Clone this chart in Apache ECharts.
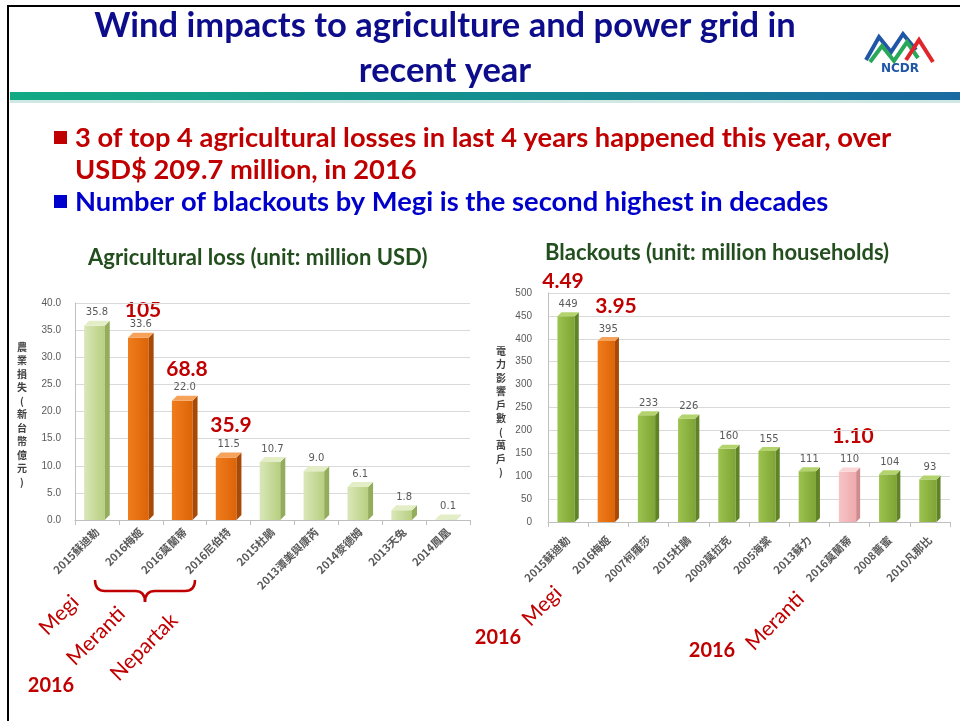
<!DOCTYPE html>
<html>
<head>
<meta charset="utf-8">
<script src="https://cdn.jsdelivr.net/npm/echarts@6/dist/echarts.min.js"></script>
<style>
  html, body { margin: 0; padding: 0; background: #fff; }
  #main { width: 960px; height: 721px; }
</style>
</head>
<body>
<div id="main"></div>
<script>
// agricultural loss (億元), left chart
const agriNames = ['2015蘇迪勒', '2016梅姬', '2016莫蘭蒂', '2016尼伯特', '2015杜鵑', '2013潭美與康芮', '2014麥德姆', '2013天兔', '2014鳳凰'];
const agriValues = [35.8, 33.6, 22.0, 11.5, 10.7, 9.0, 6.1, 1.8, 0.1];
const agriKind = ['g', 'o', 'o', 'o', 'g', 'g', 'g', 'g', 'g'];

// blackouts (萬戶), right chart
const powerNames = ['2015蘇迪勒', '2016梅姬', '2007柯羅莎', '2015杜鵑', '2009莫拉克', '2005海棠', '2013蘇力', '2016莫蘭蒂', '2008薔蜜', '2010凡那比'];
const powerValues = [449, 395, 233, 226, 160, 155, 111, 110, 104, 93];
const powerKind = ['G', 'o', 'G', 'G', 'G', 'G', 'G', 'p', 'G', 'G'];

const palette = {
  g: { front: ['#d9e7b8', '#b8cf80'], side: '#93ad5c', top: '#e3eec7' },
  G: { front: ['#9cc24e', '#7ea535'], side: '#5f8325', top: '#b3d36c' },
  o: { front: ['#f07c1c', '#dc6408'], side: '#a84a05', top: '#f6a25a' },
  p: { front: ['#f7c4c6', '#eeaaad'], side: '#cf8c8f', top: '#fad6d7' }
};

const labelFont = '"Noto Sans CJK TC", "DejaVu Sans", sans-serif';
const enFont = 'Lato, "Open Sans", sans-serif';

function bar3d(kinds, ratio, depth, fmt) {
  return function (params, api) {
    const i = api.value(0);
    const v = api.value(1);
    const top = api.coord([i, v]);
    const base = api.coord([i, 0]);
    const bw = api.size([1, 0])[0] * ratio;
    const c = palette[kinds[params.dataIndex]];
    const x = top[0] - (bw + depth) / 2;
    const d = depth;
    return {
      type: 'group',
      children: [
        {
          type: 'rect',
          shape: { x: x, y: top[1], width: bw, height: Math.max(base[1] - top[1], 0) },
          style: {
            fill: new echarts.graphic.LinearGradient(0, 0, 1, 0, [
              { offset: 0, color: c.front[0] }, { offset: 1, color: c.front[1] }
            ])
          }
        },
        {
          type: 'polygon',
          shape: { points: [[x + bw, top[1]], [x + bw + d, top[1] - d], [x + bw + d, base[1] - d], [x + bw, base[1]]] },
          style: { fill: c.side }
        },
        {
          type: 'polygon',
          shape: { points: [[x, top[1]], [x + d, top[1] - d], [x + bw + d, top[1] - d], [x + bw, top[1]]] },
          style: { fill: c.top }
        },
        {
          type: 'text',
          x: x + (bw + d) / 2,
          y: top[1] - d - 3,
          style: {
            text: fmt(v), fill: '#595959', font: '10px "DejaVu Sans", sans-serif',
            textAlign: 'center', textVerticalAlign: 'bottom'
          }
        }
      ]
    };
  };
}

function redText(text, x, y, size, bold, rot) {
  return {
    type: 'text', x: x, y: y, rotation: rot || 0,
    style: {
      text: text, fill: '#c00000',
      font: (bold ? 'bold ' : '') + size + 'px ' + enFont,
      textAlign: 'center', textVerticalAlign: 'middle'
    }
  };
}

function vertText(chars, x, y) {
  return {
    type: 'text', x: x, y: y,
    style: {
      text: chars.split('').join('\n'), fill: '#404040',
      font: 'bold 10px ' + labelFont, lineHeight: 13.5,
      textAlign: 'center', textVerticalAlign: 'top'
    }
  };
}

function redLine(x1, y1, x2, y2) {
  return { type: 'line', shape: { x1: x1, y1: y1, x2: x2, y2: y2 }, style: { stroke: '#c00000', lineWidth: 2.5 } };
}

function redCurve(x1, y1, cx, cy, x2, y2) {
  return { type: 'bezierCurve', shape: { x1: x1, y1: y1, cpx1: cx, cpy1: cy, x2: x2, y2: y2 }, style: { stroke: '#c00000', lineWidth: 2.5, fill: null } };
}

const axisGray = '#bfbfbf';

const option = {
  backgroundColor: '#fff',
  animation: false,
  grid: [
    { left: 75, top: 303, width: 395, height: 217 },
    { left: 548, top: 293, width: 402, height: 229 }
  ],
  xAxis: [
    {
      gridIndex: 0, type: 'category', data: agriNames,
      axisLine: { lineStyle: { color: axisGray } },
      axisTick: { show: true, lineStyle: { color: axisGray } },
      axisLabel: { rotate: 45, interval: 0, fontSize: 11, fontWeight: 'bold', color: '#595959', fontFamily: labelFont, margin: 10 }
    },
    {
      gridIndex: 1, type: 'category', data: powerNames,
      axisLine: { lineStyle: { color: axisGray } },
      axisTick: { show: true, lineStyle: { color: axisGray } },
      axisLabel: { rotate: 45, interval: 0, fontSize: 11, fontWeight: 'bold', color: '#595959', fontFamily: labelFont, margin: 16 }
    }
  ],
  yAxis: [
    {
      gridIndex: 0, type: 'value', min: 0, max: 40, interval: 5,
      axisLine: { show: true, lineStyle: { color: axisGray } },
      splitLine: { lineStyle: { color: '#d9d9d9' } },
      axisLabel: { fontSize: 10, color: '#595959', margin: 14, formatter: function (v) { return v.toFixed(1); } }
    },
    {
      gridIndex: 1, type: 'value', min: 0, max: 500, interval: 50,
      axisLine: { show: true, lineStyle: { color: axisGray } },
      splitLine: { lineStyle: { color: '#d9d9d9' } },
      axisLabel: { fontSize: 10, color: '#595959', margin: 16 }
    }
  ],
  series: [
    {
      type: 'custom', xAxisIndex: 0, yAxisIndex: 0,
      renderItem: bar3d(agriKind, 0.47, 5, function (v) { return v.toFixed(1); }),
      encode: { x: 0, y: 1 },
      data: agriValues.map(function (v, i) { return [i, v]; })
    },
    {
      type: 'custom', xAxisIndex: 1, yAxisIndex: 1,
      renderItem: bar3d(powerKind, 0.43, 4, function (v) { return String(v); }),
      encode: { x: 0, y: 1 },
      data: powerValues.map(function (v, i) { return [i, v]; })
    }
  ],
  graphic: [
    // slide frame
    { type: 'polyline', shape: { points: [[8, 721], [8, 6], [960, 6]] }, style: { stroke: '#000', lineWidth: 2, fill: null } },
    // title bar gradient
    {
      type: 'rect', shape: { x: 10, y: 92, width: 950, height: 8 },
      style: {
        fill: new echarts.graphic.LinearGradient(0, 0, 1, 0, [
          { offset: 0, color: '#12a983' }, { offset: 0.5, color: '#138f8f' }, { offset: 1, color: '#1a6aa2' }
        ])
      }
    },
    { type: 'rect', shape: { x: 10, y: 100, width: 950, height: 3 }, style: { fill: '#cfe8e3' } },
    // title
    { type: 'text', x: 445, y: 26, style: { text: 'Wind impacts to agriculture and power grid in', fill: '#0d0d8c', font: 'bold 34.5px ' + enFont, textAlign: 'center', textVerticalAlign: 'middle' } },
    { type: 'text', x: 445, y: 71, style: { text: 'recent year', fill: '#0d0d8c', font: 'bold 34.5px ' + enFont, textAlign: 'center', textVerticalAlign: 'middle' } },
    // logo
    { type: 'polyline', shape: { points: [[866, 60], [879, 37], [891, 52], [903, 34], [916, 50]] }, style: { stroke: '#1f56a8', lineWidth: 4, fill: null } },
    { type: 'polyline', shape: { points: [[870, 62], [882, 46], [894, 61], [907, 42], [918, 58]] }, style: { stroke: '#2aa85a', lineWidth: 4, fill: null } },
    { type: 'polyline', shape: { points: [[906, 60], [919, 40], [933, 62]] }, style: { stroke: '#e0262b', lineWidth: 4, fill: null } },
    { type: 'text', x: 900, y: 69, style: { text: 'NCDR', fill: '#1f56a8', font: 'bold 12px "DejaVu Sans", sans-serif', textAlign: 'center', textVerticalAlign: 'middle' } },
    // bullets
    { type: 'rect', shape: { x: 54, y: 131, width: 13, height: 13 }, style: { fill: '#c00000' } },
    { type: 'text', x: 75, y: 138, style: { text: '3 of top 4 agricultural losses in last 4 years happened this year, over', fill: '#c00000', font: 'bold 27.3px ' + enFont, textVerticalAlign: 'middle' } },
    { type: 'text', x: 75, y: 170, style: { text: 'USD$ 209.7 million, in 2016', fill: '#c00000', font: 'bold 27.3px ' + enFont, textVerticalAlign: 'middle' } },
    { type: 'rect', shape: { x: 54, y: 195, width: 13, height: 13 }, style: { fill: '#0000cc' } },
    { type: 'text', x: 75, y: 202, style: { text: 'Number of blackouts by Megi is the second highest in decades', fill: '#0000cc', font: 'bold 27.3px ' + enFont, textVerticalAlign: 'middle' } },
    // chart titles
    { type: 'text', x: 88, y: 258, style: { text: 'Agricultural loss (unit: million USD)', fill: '#234f1e', font: 'bold 22px ' + enFont, textVerticalAlign: 'middle' } },
    { type: 'text', x: 545, y: 253, style: { text: 'Blackouts (unit: million households)', fill: '#234f1e', font: 'bold 22px ' + enFont, textVerticalAlign: 'middle' } },
    // axis names
    vertText('農業損失(新台幣億元)', 22, 340),
    vertText('電力影響戶數(萬戶)', 501, 344),
    // red annotations
    redText('105', 143, 310, 21, true),
    redText('68.8', 187, 369, 21, true),
    redText('35.9', 231, 425, 21, true),
    redText('4.49', 563, 281, 21, true),
    redText('3.95', 616, 306, 21, true),
    redText('1.10', 853, 436, 21, true),
    // brace under the 2016 typhoons
    redCurve(95, 580, 95, 591, 105, 591),
    redLine(105, 591, 135, 591),
    redCurve(135, 591, 145, 591, 145, 602),
    redCurve(145, 602, 145, 591, 155, 591),
    redLine(155, 591, 185, 591),
    redCurve(185, 591, 195, 591, 195, 580),
    redText('Megi', 59, 615, 21, false, Math.PI / 4),
    redText('Meranti', 96, 636, 21, false, Math.PI / 4),
    redText('Nepartak', 144, 647, 21, false, Math.PI / 4),
    redText('2016', 51, 686, 20, true),
    redText('Megi', 542, 606, 21, false, Math.PI / 4),
    redText('2016', 498, 638, 20, true),
    redText('Meranti', 775, 621, 21, false, Math.PI / 4),
    redText('2016', 712, 651, 20, true)
  ]
};

const chart = echarts.init(document.getElementById('main'));
chart.setOption(option);
</script>
</body>
</html>
